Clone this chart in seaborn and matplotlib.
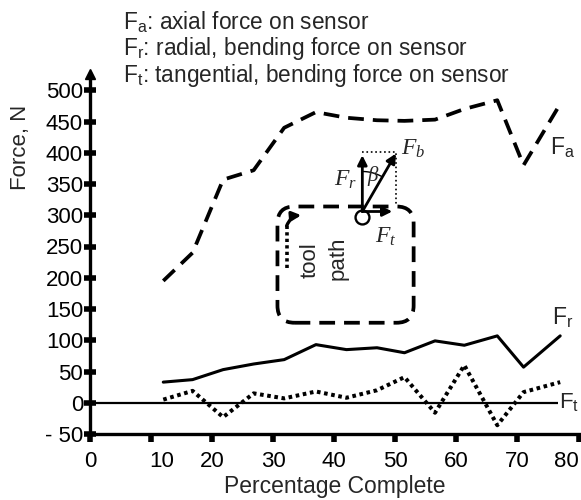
import numpy as np
import pandas as pd
import seaborn as sns
import matplotlib.pyplot as plt
from matplotlib.patches import FancyBboxPatch
from matplotlib.transforms import ScaledTranslation

# values
pct = [12, 16.8, 21.8, 26.8, 31.8, 37, 42, 47, 51.5, 56.5, 61.3, 66.7, 71, 77]
fa = [195, 240, 357, 372, 440, 465, 456, 452, 451, 453, 470, 484, 380, 478]
fr = [33, 37, 53, 62, 69, 93, 85, 88, 80, 99, 92, 107, 57, 107]
ft = [5, 19, -23, 15, 7, 18, 8, 20, 41, -16, 60, -36, 17, 33]

xticks = [0, 10, 20, 30, 40, 50, 60, 70, 80]
yticks = [-50, 0, 50, 100, 150, 200, 250, 300, 350, 400, 450, 500]
ytick_labels = ['- 50'] + [str(v) for v in yticks[1:]]

legend_lines = [r'$\mathrm{F_a}$: axial force on sensor',
                r'$\mathrm{F_r}$: radial, bending force on sensor',
                r'$\mathrm{F_t}$: tangential, bending force on sensor']

sns.set_style("ticks")
plt.rcParams['font.family'] = ['Liberation Sans', 'DejaVu Sans']
plt.rcParams['mathtext.fontset'] = 'custom'
plt.rcParams['mathtext.rm'] = 'Liberation Sans'
plt.rcParams['mathtext.it'] = 'Liberation Serif:italic'
plt.rcParams['mathtext.bf'] = 'Liberation Sans:bold'

df = pd.DataFrame({'pct': pct, 'Fa': fa, 'Fr': fr, 'Ft': ft})

fig = plt.figure(figsize=(5.81, 5.0), dpi=100)
ax = fig.add_axes([90 / 581, 66 / 500, 488.5 / 581, 360 / 500])

dash = (0, (4.2, 2.4))
sns.lineplot(data=df, x='pct', y='Fa', ax=ax, color='k', lw=2.7, linestyle=dash,
             dash_capstyle='butt')
sns.lineplot(data=df, x='pct', y='Fr', ax=ax, color='k', lw=2.2)
sns.lineplot(data=df, x='pct', y='Ft', ax=ax, color='k', lw=2.9,
             linestyle=(0, (0.9, 0.9)), dash_capstyle='butt')

ax.set_xlim(0, 80)
ax.set_ylim(-50, 526)
ax.hlines(0, 0, 76.6, color='k', lw=1.6)

for s in ['top', 'right']:
    ax.spines[s].set_visible(False)
for s in ['left', 'bottom']:
    ax.spines[s].set_linewidth(2.4)
    ax.spines[s].set_color('k')
ax.plot(0, 1, marker='^', ms=7, color='k', transform=ax.transAxes, clip_on=False)

ax.set_xticks(xticks)
ax.set_yticks(yticks)
ax.set_yticklabels(ytick_labels)
ax.tick_params(axis='y', direction='inout', length=8, width=4, labelsize=16, pad=1,
               colors='k')
ax.tick_params(axis='x', direction='out', length=6, width=4, labelsize=16, pad=6,
               colors='k')
ax.set_xlabel('Percentage Complete', fontsize=16.5)
ax.xaxis.set_label_coords(0.5, -0.115)
ax.set_ylabel('Force, N', fontsize=16)
ax.yaxis.set_label_coords(-0.12, 0.797)

# series labels
ax.text(75.4, 409, r'$\mathrm{F_a}$', fontsize=16.5, ha='left', va='center')
ax.text(75.7, 137, r'$\mathrm{F_r}$', fontsize=16.5, ha='left', va='center')
ax.text(76.8, 0, r'$\mathrm{F_t}$', fontsize=16, ha='left', va='center', clip_on=False)

# header text
for i, line in enumerate(legend_lines):
    fig.text(123 / 581, 1 - (29 + 26.5 * i) / 500, line, fontsize=16.3, va='baseline')

# tool path inset
p0 = ax.transData.transform((0, 0))
p1 = ax.transData.transform((1, 1))
sx, sy = p1[0] - p0[0], p1[1] - p0[1]
box = FancyBboxPatch((30.7, 128), 53.0 - 30.7, 314 - 128,
                     boxstyle='round,pad=0,rounding_size=2.8', mutation_aspect=sx / sy,
                     fill=False, ec='k', lw=2.7, ls=dash)
ax.add_patch(box)
ax.plot([32.2, 32.2], [215, 285], color='k', lw=2.6, ls=(0, (0.9, 0.9)),
        dash_capstyle='butt')
ax.annotate('', xy=(34.6, 300), xytext=(32.2, 283),
            arrowprops=dict(arrowstyle='-|>', color='k', lw=2.4,
                            connectionstyle='arc3,rad=-0.3',
                            shrinkA=0, shrinkB=0, mutation_scale=13))
ax.text(36.1, 228, 'tool', rotation=90, ha='center', va='center', fontsize=16)
ax.text(40.7, 231, 'path', rotation=90, ha='center', va='center', fontsize=16)

# force diagram
cx, cy = 44.6, 306
ax.plot([cx], [298], marker='o', ms=10, mfc='none', mec='k', mew=1.7)
arrow_kw = dict(arrowstyle='-|>', color='k', lw=2, shrinkA=0, shrinkB=0, mutation_scale=14)
ax.annotate('', xy=(cx, 396), xytext=(cx, cy), arrowprops=arrow_kw)
ax.annotate('', xy=(50.1, 398.7), xytext=(cx, cy), arrowprops=arrow_kw)
ax.annotate('', xy=(49.5, cy), xytext=(cx, cy), arrowprops=arrow_kw)
ax.plot([cx, 50.1, 50.1], [401, 401, 316], color='k', lw=1.2, ls=':')
t = np.radians(np.linspace(61, 90, 20))
ax.plot(cx + 40 * np.cos(t) / sx, cy + 40 * np.sin(t) / sy, color='k', lw=1)
ax.text(41.8, 356, r'$F_r$', fontsize=17, ha='center', va='center')
ax.text(46.4, 362, r'$\beta$', fontsize=15, ha='center', va='center')
ax.text(53.0, 407, r'$F_b$', fontsize=17, ha='center', va='center')
ax.text(48.4, 266, r'$F_t$', fontsize=17, ha='center', va='center')

labels = ax.get_xticklabels()
labels[1].set_transform(labels[1].get_transform() + ScaledTranslation(8 / 72, 0, fig.dpi_scale_trans))
labels[-1].set_horizontalalignment('right')

fig.savefig('out.png', dpi=100)
